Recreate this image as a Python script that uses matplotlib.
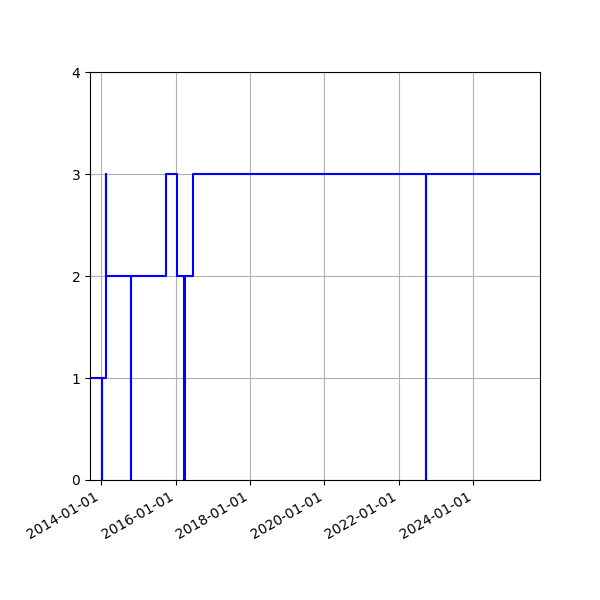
import matplotlib
matplotlib.use('Agg')
import matplotlib.pyplot as plt
import matplotlib.dates as mdates
import numpy as np

# change points of the step series (value holds until the next date)
dates = ['2013-09-12', '2014-01-03', '2014-01-04', '2014-02-19', '2014-02-20',
         '2014-10-19', '2014-10-20', '2015-09-28', '2016-01-14', '2016-03-23',
         '2016-03-31', '2016-06-16', '2022-09-24', '2022-09-25', '2025-10-17']
values = [1, 0, 1, 3, 2, 0, 2, 3, 2, 0, 2, 3, 0, 3, 3]

x = np.array(dates, dtype='datetime64[D]')

fig, ax = plt.subplots(figsize=(6, 6), dpi=100)
ax.step(x, values, where='post', color='blue', linewidth=1.5)
ax.set_xlim(x[0], x[-1])
ax.set_ylim(0, 4)
ax.set_yticks([0, 1, 2, 3, 4])
ax.xaxis.set_major_locator(mdates.YearLocator(2))
ax.xaxis.set_major_formatter(mdates.DateFormatter('%Y-%m-%d'))
ax.grid(True)
fig.autofmt_xdate()
fig.subplots_adjust(left=0.15, right=0.9, top=0.88, bottom=0.2)
fig.savefig('out.png', dpi=100)
